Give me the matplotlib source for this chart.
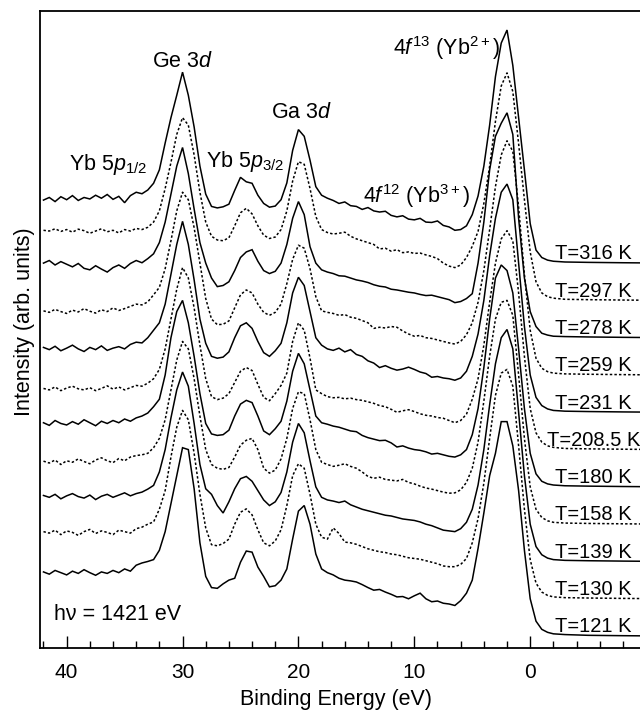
import numpy as np
import matplotlib
matplotlib.use('Agg')
import matplotlib.pyplot as plt
from matplotlib.ticker import MultipleLocator

plt.rcParams['font.family'] = ['Liberation Sans', 'DejaVu Sans']
plt.rcParams['mathtext.fontset'] = 'custom'
plt.rcParams['mathtext.rm'] = 'Liberation Sans'
plt.rcParams['mathtext.it'] = 'Liberation Sans:italic'
plt.rcParams['mathtext.bf'] = 'Liberation Sans:bold'

# binding-energy grid (eV): 42 -> -2 in 0.5 eV steps, then a sparse tail
energy = np.concatenate([np.arange(42.0, -2.25, -0.5), [-3.0, -5.0, -8.0, -12.0]])

temps = ['121', '130', '139', '158', '180', '208.5', '231', '259', '278', '297', '316']

# intensities (x100, arb. units, each relative to its own baseline)
spec_121 = [172, 166, 176, 170, 164, 174, 168, 178, 170, 163, 172, 168, 176, 170, 180, 174, 190, 196, 200,
            205, 230, 280, 355, 430, 505, 500, 395, 250, 160, 130, 128, 140, 150, 155, 198, 228, 225, 185, 160,
            132, 135, 150, 180, 260, 335, 350, 300, 220, 180, 170, 164,
            155, 150, 148, 145, 138, 130, 123, 125, 118, 112, 105, 106, 100, 108, 115, 100, 92, 94, 88, 86,
            82, 95, 115,
            150, 235, 330, 430, 490, 575, 575, 510, 390, 230, 100, 40, 18, 10, 6,
            4, 2, 1, 0]
spec_130 = [180, 176, 184, 172, 182, 178, 170, 180, 186, 175, 182, 178, 172, 184, 180, 176, 188, 192, 200,
            206, 240, 290, 380, 460, 505, 480, 390, 280, 190, 145, 142, 148, 160, 200, 232, 241, 225, 185, 150,
            142, 155, 185, 250, 330, 362, 350, 280, 200, 165, 160, 190,
            175, 152, 150, 146, 140, 134, 130, 126, 124, 120, 118, 114, 110, 108, 106, 102, 98, 94, 88, 86,
            86, 92, 108,
            150, 215, 310, 430, 545, 605, 615, 570, 410, 240, 105, 42, 18, 9, 5,
            3, 2, 1, 0]
spec_139 = [177, 172, 180, 168, 176, 182, 174, 170, 178, 166, 175, 180, 172, 178, 184, 176, 182, 186, 194,
            204, 240, 300, 385, 460, 508, 470, 370, 260, 195, 180, 150, 130, 160, 195, 222, 228, 215, 190, 165,
            150, 160, 185, 240, 320, 370, 345, 270, 200, 172, 165, 162,
            158, 162, 152, 146, 140, 136, 132, 128, 124, 122, 118, 114, 112, 110, 106, 100, 96, 90, 84, 82,
            80, 88, 105,
            140, 205, 300, 420, 530, 600, 622, 570, 400, 230, 100, 40, 18, 9, 5,
            3, 2, 1, 0]
spec_158 = [169, 164, 172, 160, 170, 166, 175, 168, 162, 172, 178, 170, 165, 176, 170, 180, 184, 186, 190,
            205, 230, 280, 360, 440, 490, 470, 390, 290, 200, 160, 150, 147, 152, 180, 212, 225, 230, 200, 150,
            137, 145, 175, 230, 310, 355, 350, 280, 200, 166, 160, 155,
            158, 162, 155, 150, 140, 128, 123, 126, 120, 118, 116, 120, 112, 108, 102, 97, 94, 90, 86, 83,
            84, 92, 112,
            150, 220, 330, 450, 550, 595, 600, 560, 400, 230, 100, 40, 18, 9, 5,
            3, 2, 1, 0]
spec_180 = [172, 165, 178, 170, 166, 175, 168, 180, 172, 164, 176, 170, 178, 172, 182, 176, 185, 190, 198,
            215, 235, 300, 400, 470, 500, 440, 350, 250, 170, 142, 138, 140, 152, 190, 222, 232, 226, 190, 150,
            140, 156, 176, 230, 310, 358, 330, 260, 190, 172, 168, 163,
            160, 155, 150, 148, 138, 132, 128, 124, 125, 118, 107, 110, 104, 100, 98, 94, 88, 90, 86, 82,
            80, 86, 100,
            140, 210, 320, 450, 560, 595, 580, 520, 370, 210, 90, 35, 15, 8, 5,
            3, 2, 1, 0]
spec_208 = [164, 160, 168, 158, 165, 170, 163, 160, 166, 158, 164, 171, 162, 168, 160, 166, 172, 170, 178,
            190, 215, 270, 350, 430, 488, 460, 380, 280, 190, 142, 134, 138, 150, 180, 210, 220, 212, 175, 140,
            131, 150, 172, 205, 290, 340, 320, 245, 160, 150, 142, 139,
            140, 136, 138, 134, 132, 128, 124, 118, 115, 108, 100, 104, 107, 102, 96, 92, 90, 86, 84, 78,
            72, 78, 95,
            135, 190, 280, 395, 500, 565, 587, 560, 420, 250, 110, 45, 20, 10, 6,
            3, 2, 1, 0]
spec_231 = [174, 168, 177, 165, 172, 180, 170, 163, 174, 168, 178, 166, 172, 176, 170, 182, 188, 186, 200,
            220, 240, 290, 370, 450, 512, 450, 355, 250, 185, 150, 145, 148, 162, 200, 232, 240, 225, 190, 160,
            150, 165, 185, 240, 320, 362, 340, 270, 200, 180, 170, 166,
            172, 162, 168, 155, 150, 138, 132, 120, 125, 118, 113, 116, 121, 115, 108, 104, 94, 96, 92, 90,
            86, 92, 110,
            150, 210, 300, 420, 520, 590, 612, 570, 400, 230, 100, 40, 18, 9, 5,
            3, 2, 1, 0]
spec_259 = [172, 168, 176, 170, 165, 174, 169, 178, 171, 166, 175, 170, 180, 173, 178, 184, 190, 188, 196,
            215, 235, 285, 360, 440, 490, 470, 395, 300, 205, 150, 135, 136, 145, 180, 215, 228, 220, 190, 168,
            160, 168, 190, 245, 310, 348, 340, 285, 210, 172, 168, 165,
            160, 162, 155, 152, 146, 140, 125, 128, 126, 130, 128, 118, 110, 104, 106, 100, 98, 94, 90, 86,
            83, 90, 108,
            140, 195, 280, 390, 505, 590, 628, 600, 450, 270, 120, 45, 18, 9, 5,
            3, 2, 1, 0]
spec_278 = [200, 207, 195, 204, 197, 190, 199, 186, 182, 193, 184, 176, 188, 195, 186, 199, 207, 201, 212,
            225, 255, 310, 385, 460, 510, 440, 345, 255, 200, 160, 137, 140, 150, 180, 215, 230, 236, 205, 180,
            172, 178, 200, 250, 320, 365, 330, 244, 200, 182, 176, 172,
            166, 165, 160, 155, 152, 148, 142, 138, 136, 130, 128, 125, 122, 120, 116, 113, 114, 110, 106, 102,
            94, 97, 105,
            118, 200, 310, 450, 540, 575, 603, 545, 320, 160, 70, 30, 12, 7, 4,
            3, 2, 1, 0]
spec_297 = [188, 186, 192, 185, 190, 183, 191, 187, 180, 186, 192, 184, 188, 181, 190, 186, 193, 190, 196,
            210, 240, 300, 370, 445, 490, 470, 390, 290, 210, 172, 162, 160, 168, 200, 235, 247, 232, 200, 175,
            166, 170, 190, 240, 320, 372, 365, 300, 225, 190, 182, 178,
            180, 183, 172, 165, 160, 155, 150, 138, 140, 132, 136, 128, 130, 126, 127, 122, 118, 112, 100, 92,
            88, 95, 115,
            145, 185, 260, 360, 480, 575, 610, 560, 420, 270, 130, 50, 20, 10, 6,
            3, 2, 1, 0]
spec_316 = [169, 176, 165, 178, 170, 181, 168, 176, 172, 182, 174, 184, 171, 179, 162, 181, 190, 186, 196,
            214, 250, 322, 390, 450, 512, 450, 365, 260, 185, 152, 148, 151, 158, 195, 230, 218, 214, 182, 160,
            150, 153, 170, 215, 302, 358, 340, 276, 205, 182, 174, 168,
            160, 164, 154, 152, 144, 149, 140, 137, 139, 128, 124, 127, 118, 116, 120, 110, 109, 113, 101, 97,
            88, 90, 100,
            130, 180, 260, 370, 500, 590, 625, 530, 390, 250, 106, 35, 15, 8, 5,
            3, 2, 1, 0]

spectra = [spec_121, spec_130, spec_139, spec_158, spec_180, spec_208,
           spec_231, spec_259, spec_278, spec_297, spec_316]

fig = plt.figure(figsize=(6.4, 7.11), dpi=100)
ax = fig.add_axes([40 / 640, 63 / 711, 620 / 640, 637 / 711])

for k, (t, s) in enumerate(zip(temps, spectra)):
    y = np.asarray(s, dtype=float) / 100.0 + k
    ls = '-' if k % 2 == 0 else (0, (1.6, 1.4))
    ax.plot(energy, y, color='black', lw=1.1, ls=ls, solid_joinstyle='miter')
    ax.text(-5.45, k + 0.1, f'T={t} K', ha='center', va='baseline', fontsize=14.5)

ax.set_xlim(42.3, -11.2)
ax.set_ylim(-0.32, 16.76)
ax.set_xticks([40, 30, 20, 10, 0])
ax.xaxis.set_minor_locator(MultipleLocator(2))
ax.set_yticks([])
ax.tick_params(axis='x', which='major', direction='in', length=8.5, width=1.0,
               labelsize=15, pad=11, top=False)
ax.tick_params(axis='x', which='minor', direction='in', length=5, width=1.0, top=False)
for sp in ax.spines.values():
    sp.set_linewidth(1.3)

ax.set_xlabel('Binding Energy (eV)', fontsize=15.5)
ax.xaxis.label.set_va('baseline')
ax.xaxis.set_label_coords(0.477, -0.0895)
ax.set_ylabel('Intensity (arb. units)', fontsize=15.5)
ax.yaxis.set_label_coords(-0.008, 0.512)

fs = 15.5
ax.text(30.0, 15.25, r'Ge 3$d$', ha='center', va='baseline', fontsize=fs)
ax.text(19.74, 13.89, r'Ga 3$d$', ha='center', va='baseline', fontsize=fs)
ax.text(39.8, 12.49, r'Yb 5$p_{1/2}$', ha='left', va='baseline', fontsize=fs)
ax.text(28.0, 12.57, r'Yb 5$p_{3/2}$', ha='left', va='baseline', fontsize=fs)
ax.text(14.4, 11.61, r'4$f^{12}$ (Yb$^{3+}$)', ha='left', va='baseline', fontsize=fs)
ax.text(11.8, 15.58, r'4$f^{13}$ (Yb$^{2+}$)', ha='left', va='baseline', fontsize=fs)
ax.text(41.1, 0.43, 'h\u03bd = 1421 eV', ha='left', va='baseline', fontsize=fs)

fig.savefig('out.png', dpi=100)
